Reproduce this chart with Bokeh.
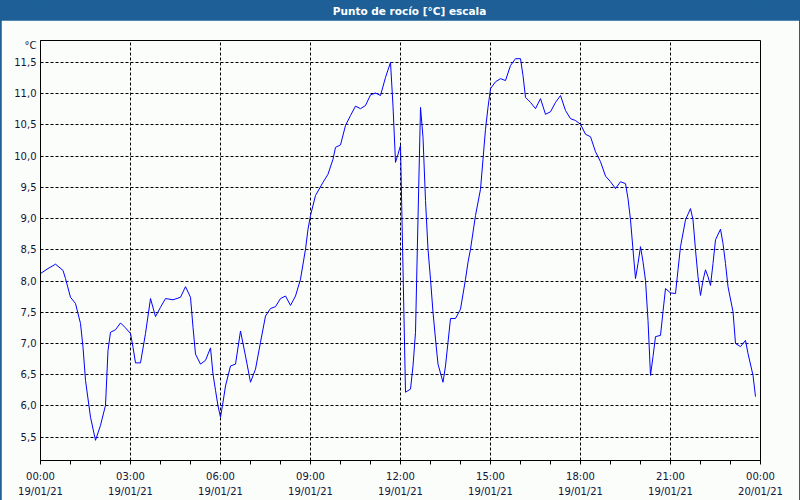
from bokeh.plotting import figure
from bokeh.models import FixedTicker, Range1d
from bokeh.layouts import column
from bokeh.embed import file_html
from bokeh.resources import INLINE
from bokeh.core.properties import value

# ---------------- data ----------------
title_text = "Punto de rocío [°C] escala"
unit_text = "°C"

times = [
    "00:00", "00:15", "00:30", "00:45", "00:50", "01:00", "01:10", "01:20", "01:25", "01:30",
    "01:40", "01:50", "02:00", "02:10", "02:15", "02:20", "02:30", "02:40", "02:50", "03:00",
    "03:05", "03:10", "03:20", "03:30", "03:40", "03:50", "04:00", "04:10", "04:25", "04:40",
    "04:50", "05:00", "05:05", "05:10", "05:20", "05:30", "05:40", "05:45", "05:50", "05:55",
    "06:00", "06:05", "06:10", "06:20", "06:30", "06:40", "06:50", "07:00", "07:10", "07:20",
    "07:30", "07:40", "07:50", "08:00", "08:10", "08:20", "08:30", "08:40", "08:50", "08:55",
    "09:00", "09:10", "09:25", "09:35", "09:45", "09:50", "10:00", "10:10", "10:20", "10:30",
    "10:40", "10:50", "11:00", "11:10", "11:20", "11:30", "11:40", "11:45", "11:50", "11:55",
    "12:00", "12:05", "12:10", "12:20", "12:25", "12:30", "12:35", "12:40", "12:45", "12:50",
    "12:55", "13:00", "13:05", "13:10", "13:15", "13:25", "13:30", "13:35", "13:40", "13:50",
    "14:00", "14:10", "14:15", "14:20", "14:30", "14:40", "14:45", "14:50", "14:55", "15:00",
    "15:10", "15:20", "15:30", "15:40", "15:50", "16:00", "16:05", "16:10", "16:20", "16:30",
    "16:40", "16:50", "17:00", "17:10", "17:20", "17:30", "17:40", "17:50", "18:00", "18:10",
    "18:20", "18:30", "18:40", "18:50", "19:00", "19:10", "19:20", "19:30", "19:35", "19:40",
    "19:45", "19:50", "19:55", "20:00", "20:05", "20:10", "20:15", "20:20", "20:25", "20:30",
    "20:40", "20:45", "20:50", "21:00", "21:10", "21:15", "21:20", "21:30", "21:40", "21:45",
    "21:50", "21:55", "22:00", "22:05", "22:10", "22:15", "22:20", "22:25", "22:30", "22:40",
    "22:45", "22:50", "22:55", "23:05", "23:10", "23:20", "23:30", "23:35", "23:45", "23:50",
]

dew_point = [
    8.12, 8.20, 8.27, 8.17, 8.04, 7.74, 7.64, 7.32, 6.94, 6.41,
    5.82, 5.45, 5.69, 6.01, 6.89, 7.18, 7.22, 7.33, 7.25, 7.16,
    6.94, 6.69, 6.69, 7.16, 7.72, 7.43, 7.58, 7.72, 7.70, 7.74,
    7.91, 7.74, 7.26, 6.83, 6.67, 6.73, 6.93, 6.51, 6.25, 6.00,
    5.82, 6.06, 6.32, 6.64, 6.67, 7.20, 6.80, 6.38, 6.59, 7.02,
    7.44, 7.56, 7.59, 7.72, 7.76, 7.61, 7.76, 8.03, 8.51, 8.83,
    9.05, 9.37, 9.58, 9.71, 9.95, 10.14, 10.18, 10.49, 10.65, 10.80,
    10.76, 10.81, 10.98, 11.01, 10.97, 11.26, 11.50, 10.80, 9.90, 10.03,
    10.17, 8.20, 6.22, 6.27, 6.64, 7.18, 9.00, 10.78, 10.30, 9.29,
    8.51, 8.03, 7.50, 7.07, 6.67, 6.38, 6.64, 7.02, 7.40, 7.40,
    7.55, 8.03, 8.30, 8.51, 9.05, 9.47, 9.95, 10.43, 10.78, 11.08,
    11.19, 11.24, 11.21, 11.45, 11.56, 11.56, 11.29, 10.94, 10.86, 10.76,
    10.92, 10.67, 10.71, 10.86, 10.97, 10.73, 10.60, 10.57, 10.51, 10.35,
    10.31, 10.07, 9.91, 9.68, 9.59, 9.48, 9.59, 9.56, 9.32, 8.98,
    8.50, 8.04, 8.28, 8.55, 8.31, 8.01, 7.37, 6.49, 6.79, 7.11,
    7.13, 7.51, 7.88, 7.81, 7.80, 8.18, 8.55, 8.98, 9.16, 8.98,
    8.50, 8.07, 7.77, 8.01, 8.18, 8.07, 7.93, 8.28, 8.66, 8.83,
    8.60, 8.28, 7.91, 7.51, 7.00, 6.95, 7.05, 6.84, 6.49, 6.15,
]

x_ticks = [0, 3, 6, 9, 12, 15, 18, 21, 24]
x_tick_labels = [
    "00:00\n19/01/21", "03:00\n19/01/21", "06:00\n19/01/21", "09:00\n19/01/21",
    "12:00\n19/01/21", "15:00\n19/01/21", "18:00\n19/01/21", "21:00\n19/01/21",
    "00:00\n20/01/21",
]
x_minor_ticks = [1, 2, 4, 5, 7, 8, 10, 11, 13, 14, 16, 17, 19, 20, 22, 23]

y_ticks = [5.5, 6.0, 6.5, 7.0, 7.5, 8.0, 8.5, 9.0, 9.5, 10.0, 10.5, 11.0, 11.5]
y_tick_labels = ["5,5", "6,0", "6,5", "7,0", "7,5", "8,0", "8,5", "9,0", "9,5",
                 "10,0", "10,5", "11,0", "11,5"]
unit_label_level = 11.77   # where the "°C" unit label sits beside the axis

# ---------------- styling ----------------
BLUE_BAR = "#1d5f96"
BG = "#fbfdfb"
TXT = "#141438"
FONT = "DejaVu Sans"

hours = [int(t[:2]) + int(t[3:]) / 60.0 for t in times]

# title bar
bar = figure(width=798, height=20, output_backend="svg", toolbar_location=None,
             x_range=Range1d(0, 798), y_range=Range1d(0, 20),
             x_axis_location=None, y_axis_location=None, min_border=0)
bar.grid.visible = False
bar.background_fill_color = BLUE_BAR
bar.border_fill_color = BLUE_BAR
bar.outline_line_color = None
bar.text(x=[409], y=[10], text=[title_text], text_color="white",
         text_font=value(FONT), text_font_size="10.5px", text_font_style="bold",
         text_align="center", text_baseline="middle")

# main chart
p = figure(frame_width=720, frame_height=420, output_backend="svg", toolbar_location=None,
           x_range=Range1d(0, 24), y_range=Range1d(5.127, 11.851),
           min_border_left=39, min_border_right=39, min_border_top=20, min_border_bottom=39)
p.background_fill_color = BG
p.border_fill_color = BG
p.outline_line_color = "black"
p.outline_line_width = 1

p.line(hours, dew_point, line_color="#0000ff", line_width=1)

xax = p.xaxis[0]
xax.ticker = FixedTicker(ticks=x_ticks, minor_ticks=x_minor_ticks)
xax.major_label_overrides = {t: l for t, l in zip(x_ticks, x_tick_labels)}
xax.major_tick_out = 4
xax.major_tick_in = 0
xax.minor_tick_out = 4
xax.minor_tick_in = 0
xax.major_tick_line_color = "black"
xax.minor_tick_line_color = "black"
xax.axis_line_color = "black"
xax.major_label_standoff = 6
xax.major_label_text_font = FONT
xax.major_label_text_font_size = "10px"
xax.major_label_text_color = TXT
xax.major_label_text_line_height = 1.45

yax = p.yaxis[0]
yax.ticker = FixedTicker(ticks=y_ticks + [unit_label_level], minor_ticks=[])
overrides = {t: l for t, l in zip(y_ticks, y_tick_labels)}
overrides[unit_label_level] = unit_text
yax.major_label_overrides = overrides
yax.major_tick_out = 0
yax.major_tick_in = 0
yax.minor_tick_out = 0
yax.minor_tick_in = 0
yax.axis_line_color = "black"
yax.major_label_standoff = 4
yax.major_label_text_font = FONT
yax.major_label_text_font_size = "10px"
yax.major_label_text_color = TXT

for g in (p.xgrid[0], p.ygrid[0]):
    g.grid_line_color = "black"
    g.grid_line_dash = "3 2"
    g.grid_line_width = 1
p.xgrid[0].ticker = FixedTicker(ticks=x_ticks, minor_ticks=[])
p.ygrid[0].ticker = FixedTicker(ticks=y_ticks, minor_ticks=[])

layout = column(bar, p, spacing=0,
                styles={"padding": "0px 1px 1px 1px", "background-color": BLUE_BAR})

open("out.html", "w").write(file_html(layout, INLINE))
